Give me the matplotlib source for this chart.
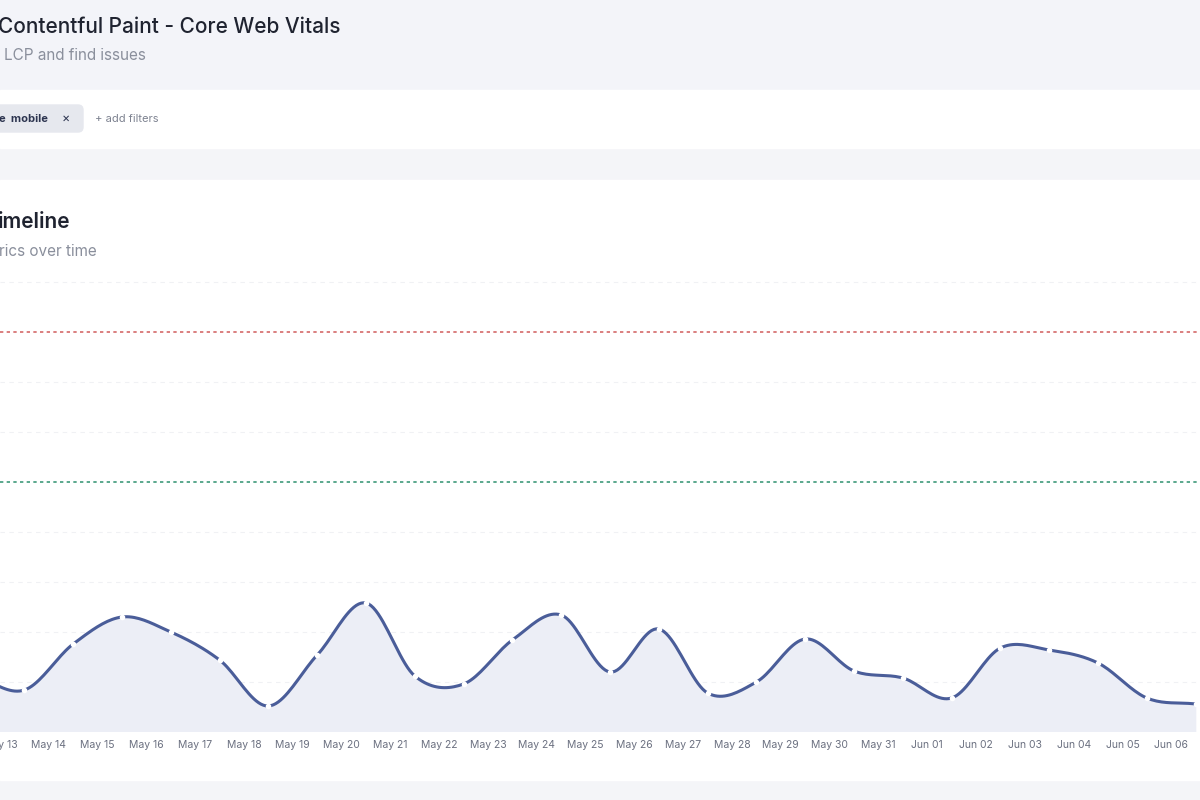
import numpy as np
from matplotlib import pyplot as plt
from matplotlib.patches import Rectangle, FancyBboxPatch

plt.rcParams['font.family'] = ['Inter', 'DejaVu Sans']

dates = ['May 13', 'May 14', 'May 15', 'May 16', 'May 17', 'May 18', 'May 19', 'May 20',
         'May 21', 'May 22', 'May 23', 'May 24', 'May 25', 'May 26', 'May 27', 'May 28',
         'May 29', 'May 30', 'May 31', 'Jun 01', 'Jun 02', 'Jun 03', 'Jun 04', 'Jun 05', 'Jun 06']
# LCP in ms, one value per day (first is the day before the visible window)
lcp = [560, 420, 880, 1150, 1000, 720, 260, 770, 1290, 560, 480, 920, 1170, 600, 1030,
       390, 500, 930, 610, 540, 340, 840, 820, 690, 340, 280]
good_limit = 2500
poor_limit = 4000


def catmull(x, y, n=20):
    # smooth line through the points
    x, y = np.asarray(x, float), np.asarray(y, float)
    px = np.concatenate([[2*x[0]-x[1]], x, [2*x[-1]-x[-2]]])
    py = np.concatenate([[2*y[0]-y[1]], y, [2*y[-1]-y[-2]]])
    xs, ys = [], []
    t = np.linspace(0, 1, n, endpoint=False)
    for i in range(1, len(px) - 2):
        for arr, out in ((px, xs), (py, ys)):
            p0, p1, p2, p3 = arr[i-1:i+3]
            out.extend(0.5*((2*p1) + (-p0+p2)*t + (2*p0-5*p1+4*p2-p3)*t**2 + (-p0+3*p1-3*p2+p3)*t**3))
    xs.append(x[-1]); ys.append(y[-1])
    return np.array(xs), np.array(ys)


fig = plt.figure(figsize=(12, 8), dpi=100)
fig.patch.set_facecolor('#f4f5f8')
bg = fig.add_axes([0, 0, 1, 1]); bg.set_xlim(0, 1200); bg.set_ylim(800, 0); bg.axis('off')
bg.add_patch(Rectangle((0, 0), 1200, 90, color='#f3f4f9'))
bg.add_patch(Rectangle((0, 90), 1200, 58, color='white'))
bg.add_patch(Rectangle((0, 180), 1200, 600, color='white'))
bg.text(-2, 27, 'Contentful Paint - Core Web Vitals', fontsize=15, color='#1f2330', va='center', fontweight='medium')
bg.text(4, 55, 'LCP and find issues', fontsize=11, color='#8a8f9c', va='center')
bg.add_patch(FancyBboxPatch((-10, 105), 93, 27, boxstyle='round,pad=0,rounding_size=5', color='#e6e8ee'))
bg.text(-1, 119, 'e  mobile', fontsize=8, color='#2d3550', va='center', fontweight='bold')
bg.text(66, 119, '×', fontsize=9, color='#2d3550', va='center', ha='center')
bg.text(95, 119, '+ add filters', fontsize=8, color='#7d8290', va='center')
bg.text(-2, 222, 'imeline', fontsize=15, color='#1f2330', va='center', fontweight='semibold')
bg.text(-1, 251, 'rics over time', fontsize=11, color='#8a8f9c', va='center')

ax = fig.add_axes([0, 68/800, 1, 462/800])
ax.set_facecolor('none')
xs = np.arange(len(lcp)) - 0.5
sx, sy = catmull(xs, lcp)
ax.fill_between(sx, sy, color='#eceef6', zorder=1)
ax.plot(sx, sy, color='#4a5d99', lw=2.2, zorder=3)
ax.scatter(xs, lcp, s=9, color='white', zorder=4)
for v in range(500, 4600, 500):
    if v not in (good_limit, poor_limit):
        ax.axhline(v, color='#f0f1f4', lw=0.8, ls=(0, (4, 4)), zorder=0)
ax.axhline(poor_limit, color='#d46a6a', lw=1.2, ls=(0, (2, 2)), zorder=2)
ax.axhline(good_limit, color='#3e9a7a', lw=1.2, ls=(0, (2, 2)), zorder=2)
ax.set_xlim(0.1, 0.1 + 1200/49)
ax.set_ylim(0, 4620)
ax.set_xticks(np.arange(len(dates)))
ax.set_xticklabels(dates, fontsize=7.5, color='#6b7080')
ax.tick_params(length=0, pad=6)
ax.set_yticks([])
for s in ax.spines.values():
    s.set_visible(False)

fig.savefig('out.png', dpi=100)
